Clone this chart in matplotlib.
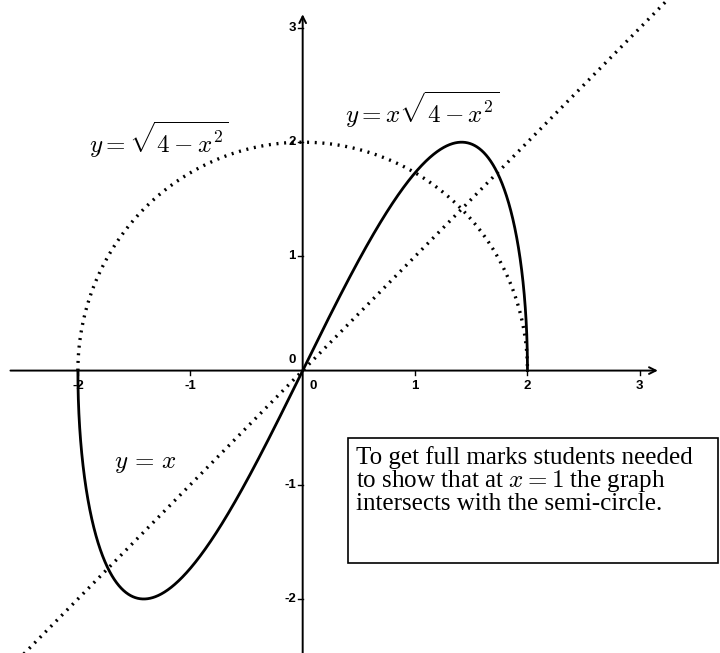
import numpy as np
import matplotlib
matplotlib.use("Agg")
import matplotlib.pyplot as plt
from matplotlib.patches import Rectangle

plt.rcParams['mathtext.fontset'] = 'cm'

# ---- data ----
x_ticks = [-2, -1, 1, 2, 3]
x_tick_labels = ['-2', '-1', '1', '2', '3']
y_ticks = [-2, -1, 1, 2, 3]
y_tick_labels = ['-2', '-1', '1', '2', '3']
radius = 2.0
diag_range = [-2.55, 3.3]
label_semicircle = r'$y=\sqrt{4-x^2}$'
label_product = r'$y=x\sqrt{4-x^2}$'
label_line = r'$y\,=\,x$'
note_text = "To get full marks students needed\nto show that at $x=1$ the graph\nintersects with the semi-circle."

# ---- curves ----
t = np.linspace(-np.pi / 2, np.pi / 2, 2000)
xs = radius * np.sin(t)
semi = np.sqrt(np.clip(radius**2 - xs**2, 0, None))
prod = xs * semi
xd = np.array(diag_range)

fig = plt.figure(figsize=(7.2, 6.53), dpi=100)
ax = fig.add_axes([0, 0, 1, 1])
ax.set_xlim(-2.693, 3.713)
ax.set_ylim(-2.473, 3.245)
ax.axis('off')

# axes with arrows
ax.annotate('', xy=(3.16, 0), xytext=(-2.6, 0),
            arrowprops=dict(arrowstyle='->', lw=1.4, color='black',
                            mutation_scale=12, shrinkA=0, shrinkB=0))
ax.annotate('', xy=(0, 3.12), xytext=(0, -2.6),
            arrowprops=dict(arrowstyle='->', lw=1.4, color='black',
                            mutation_scale=12, shrinkA=0, shrinkB=0))

# ticks
for xv, lab in zip(x_ticks, x_tick_labels):
    ax.plot([xv, xv], [0, -0.04], color='black', lw=1)
    ax.text(xv, -0.08, lab, ha='center', va='top', fontsize=9.5,
            family='Liberation Sans', fontweight='bold')
for yv, lab in zip(y_ticks, y_tick_labels):
    ax.plot([0, -0.04], [yv, yv], color='black', lw=1)
    ax.text(-0.06, yv, lab, ha='right', va='center', fontsize=9.5,
            family='Liberation Sans', fontweight='bold')
ax.text(-0.06, 0.04, '0', ha='right', va='bottom', fontsize=9.5,
        family='Liberation Sans', fontweight='bold')
ax.text(0.06, -0.08, '0', ha='left', va='top', fontsize=9.5,
        family='Liberation Sans', fontweight='bold')

# curves
ax.plot(xs, semi, color='black', lw=2.4, linestyle=(0, (0.6, 1.7)))
ax.plot(xd, xd, color='black', lw=2.4, linestyle=(0, (0.6, 1.7)))
ax.plot(xs, prod, color='black', lw=2.0)

# labels
ax.text(-1.9, 2.02, label_semicircle, fontsize=18, ha='left', va='center')
ax.text(0.38, 2.28, label_product, fontsize=18, ha='left', va='center')
ax.text(-1.68, -0.81, label_line, fontsize=18, ha='left', va='center')

# note box
ax.add_patch(Rectangle((0.403, -1.685), 3.29, 1.095, facecolor='white',
                       edgecolor='black', lw=1.2, zorder=3))
ax.text(0.47, -0.66, note_text, fontsize=18, family='Liberation Serif',
        ha='left', va='top', linespacing=0.96, zorder=4)

fig.savefig('out.png', dpi=100)
